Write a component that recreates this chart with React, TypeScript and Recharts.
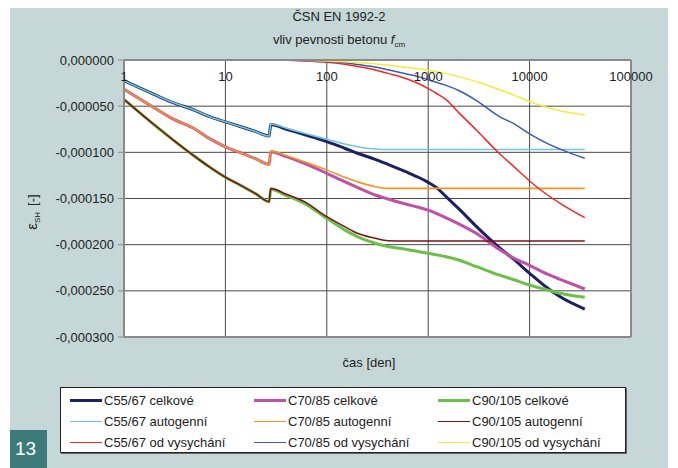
import { CartesianGrid, Line, LineChart, ReferenceLine, XAxis, YAxis } from 'recharts'

// time [days]
const times = [1, 2, 3, 5, 7, 10, 14, 20, 27, 28, 40, 60, 100, 150, 200, 300, 400, 600, 800, 1000, 1200, 1500, 2000, 3000, 5000, 7000, 10000, 15000, 20000, 35000]

// shrinkage strain in 1e-6
const c55Total = [-22.4, -37.5, -45.8, -54.5, -61.4, -67, -72, -77.6, -82.3, -69.8, -75, -80.8, -88.4, -95.6, -101, -107.6, -113, -121, -127, -132.5, -138, -148, -161, -180.5, -203, -216, -231, -247, -256.5, -269.7]
const c70Total = [-31.8, -52, -63.5, -74.7, -85.2, -94, -100.4, -107.2, -113, -99.3, -104.7, -111.9, -122.7, -131.8, -137.9, -146.2, -150.5, -156, -159.5, -162.5, -166, -171, -177.5, -188, -205, -214.5, -222.5, -232, -237.5, -248]
const c90Total = [-42.6, -70.4, -85.9, -104.5, -116, -127, -135.5, -145, -153.5, -140, -147, -155.2, -171.5, -184, -191.3, -198.5, -202, -205, -207.3, -209.4, -211, -213, -216.6, -223.8, -232.8, -238, -243.7, -249, -252.7, -257]
const c55Auto = [-22.4, -37.5, -45.8, -54.5, -61.4, -67, -72, -77.6, -82.3, -69.3, -74, -79.4, -85.9, -91, -93.9, -96.4, -97, -97, -97, -97, -97, -97, -97, -97, -97, -97, -97, -97, -97, -97]
const c70Auto = [-31.8, -52, -63.5, -74.7, -85.2, -94, -100.4, -107.2, -113, -98.4, -103.6, -110.1, -119, -127, -131.8, -137.2, -139, -139, -139, -139, -139, -139, -139, -139, -139, -139, -139, -139, -139, -139]
const c90Auto = [-42.6, -70.4, -85.9, -104.5, -116, -127, -135.5, -145, -153.5, -139, -145.5, -153.4, -169.7, -180.5, -187.7, -193, -195.7, -196, -196, -196, -196, -196, -196, -196, -196, -196, -196, -196, -196, -196]
const c55Dry = [0, 0, 0, 0, 0, 0, 0, 0, 0, 0, -0.3, -1, -2.5, -4.6, -7, -10.8, -14.5, -20, -25.5, -31, -36, -43, -57, -76, -101, -115.5, -131, -146.2, -155.2, -170.8]
const c70Dry = [0, 0, 0, 0, 0, 0, 0, 0, 0, 0, -0.2, -0.6, -1.5, -3, -5, -7.5, -10.5, -15, -18, -21.5, -24, -27.5, -33, -44, -61, -69, -80, -90.5, -96.5, -106.5]
const c90Dry = [0, 0, 0, 0, 0, 0, 0, 0, 0, 0, 0, -0.3, -1, -1.8, -2.6, -4.2, -5.5, -7.8, -9.4, -11, -12.5, -14.5, -18, -23.5, -32, -38, -45, -51.5, -55, -59.6]

const xTicks = [1, 10, 100, 1000, 10000, 100000]
const yTicks = [0, -50, -100, -150, -200, -250, -300]

const series = [
  { key: 'c55Total', name: 'C55/67 celkové', values: c55Total, color: '#1e2066', width: 3 },
  { key: 'c70Total', name: 'C70/85 celkové', values: c70Total, color: '#c050a8', width: 3 },
  { key: 'c90Total', name: 'C90/105 celkové', values: c90Total, color: '#6cc04a', width: 3 },
  { key: 'c55Auto', name: 'C55/67 autogenní', values: c55Auto, color: '#6cc8dc', width: 1.6 },
  { key: 'c70Auto', name: 'C70/85 autogenní', values: c70Auto, color: '#f7941d', width: 1.6 },
  { key: 'c90Auto', name: 'C90/105 autogenní', values: c90Auto, color: '#7b1416', width: 1.6 },
  { key: 'c55Dry', name: 'C55/67 od vysychání', values: c55Dry, color: '#f02828', width: 1.5 },
  { key: 'c70Dry', name: 'C70/85 od vysychání', values: c70Dry, color: '#3c5cb4', width: 1.5 },
  { key: 'c90Dry', name: 'C90/105 od vysychání', values: c90Dry, color: '#f5ec3c', width: 1.5 },
]

const data = times.map((t, i) => {
  const row: Record<string, number> = { t }
  series.forEach((s) => {
    row[s.key] = s.values[i]
  })
  return row
})

const fmtStrain = (v: number) => (v * 1e-6).toFixed(6).replace('.', ',')

const font = '"Liberation Sans", Arial, sans-serif'
const frame = '#8a8a8a'

// day labels sit just under the top edge of the plot
const DayTick = (props: any) => {
  const { x, y, payload } = props
  return (
    <text x={x} y={y} dy={21} textAnchor="middle" fontSize={13} fill="#222">
      {payload.value}
    </text>
  )
}

export default function App() {
  return (
    <div
      style={{
        position: 'absolute',
        left: 0,
        top: 0,
        width: 678,
        height: 468,
        background: '#fff',
        fontFamily: font,
        color: '#222',
        overflow: 'hidden',
      }}
    >
      <div style={{ position: 'absolute', left: 10, top: 8, width: 658, height: 460, background: '#c5d8d7' }} />

      <div style={{ position: 'absolute', left: 0, top: 9, width: 678, textAlign: 'center', fontSize: 13, lineHeight: '16px' }}>
        ČSN EN 1992-2
      </div>
      <div style={{ position: 'absolute', left: 0, top: 32, width: 678, textAlign: 'center', fontSize: 13, lineHeight: '16px' }}>
        vliv pevnosti betonu <i>f</i>
        <span style={{ fontSize: 8, position: 'relative', top: 3 }}>cm</span>
      </div>

      <div
        style={{
          position: 'absolute',
          left: 33,
          top: 212,
          transform: 'translate(-50%, -50%) rotate(-90deg)',
          whiteSpace: 'nowrap',
          fontSize: 13,
          lineHeight: '16px',
        }}
      >
        <span style={{ fontSize: 15 }}>ε</span>
        <span style={{ fontSize: 8, position: 'relative', top: 3 }}>SH</span>
        <span style={{ marginLeft: 6 }}>[-]</span>
      </div>

      <div style={{ position: 'absolute', left: 269, top: 355, width: 200, textAlign: 'center', fontSize: 13, lineHeight: '16px' }}>
        čas [den]
      </div>

      <LineChart
        width={678}
        height={468}
        data={data}
        margin={{ top: 40, right: 47, bottom: 131, left: 0 }}
        style={{ position: 'absolute', left: 0, top: 0 }}
      >
        <CartesianGrid stroke="#4a4a4a" strokeWidth={1} fill="#fff" />
        <XAxis
          dataKey="t"
          type="number"
          scale="log"
          domain={[1, 100000]}
          ticks={xTicks}
          interval={0}
          allowDataOverflow
          orientation="top"
          height={20}
          axisLine={{ stroke: frame, strokeWidth: 2 }}
          tickLine={false}
          tickSize={0}
          tickMargin={0}
          tick={<DayTick />}
        />
        <YAxis
          type="number"
          domain={[-300, 0]}
          ticks={yTicks}
          interval={0}
          width={124}
          tickFormatter={fmtStrain}
          axisLine={{ stroke: frame, strokeWidth: 2 }}
          tickLine={{ stroke: frame }}
          tickSize={6}
          tickMargin={4}
          tick={{ fontSize: 13, fill: '#222' }}
        />
        <ReferenceLine x={100000} stroke={frame} strokeWidth={2} />
        <ReferenceLine y={-300} stroke={frame} strokeWidth={2} />
        {series.map((s) => (
          <Line
            key={s.key}
            dataKey={s.key}
            name={s.name}
            type="monotone"
            stroke={s.color}
            strokeWidth={s.width}
            dot={false}
            activeDot={false}
            isAnimationActive={false}
          />
        ))}
      </LineChart>

      <div
        style={{
          position: 'absolute',
          left: 60,
          top: 387,
          width: 566,
          height: 66,
          background: '#fff',
          border: '1px solid #222',
          boxShadow: '1px 1px 0 #666',
          display: 'grid',
          gridTemplateColumns: '184px 184px 184px',
          gridAutoRows: '21px',
          paddingLeft: 9,
          paddingTop: 2,
          boxSizing: 'border-box',
          fontSize: 13,
        }}
      >
        {series.map((s) => (
          <div key={s.key} style={{ display: 'flex', alignItems: 'center', whiteSpace: 'nowrap' }}>
            <span style={{ display: 'inline-block', width: 32, height: s.width === 3 ? 3 : 1.5, background: s.color, marginRight: 2 }} />
            <span>{s.name}</span>
          </div>
        ))}
      </div>

      <div
        style={{
          position: 'absolute',
          left: 10,
          top: 430,
          width: 37,
          height: 38,
          background: '#3c7b7a',
          color: '#fff',
          fontSize: 19,
          lineHeight: '38px',
          paddingLeft: 5,
          boxSizing: 'border-box',
        }}
      >
        13
      </div>
    </div>
  )
}
